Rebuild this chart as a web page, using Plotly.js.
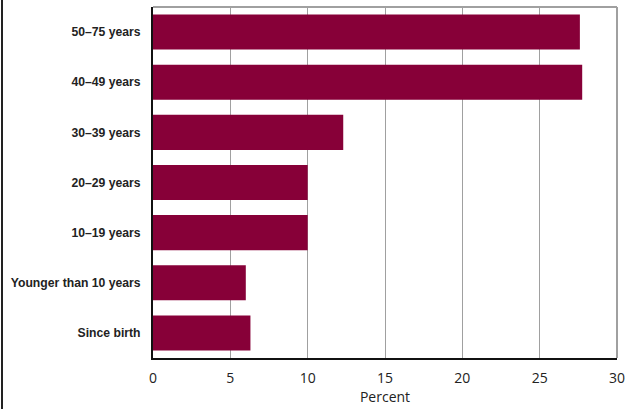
<!DOCTYPE html>
<html><head><meta charset="utf-8">
<script src="https://cdn.plot.ly/plotly-3.0.1.min.js"></script>
<style>body{margin:0;padding:0;background:#fff}#chart{width:626px;height:409px}#edge{position:absolute;left:1px;top:0;width:2px;height:409px;background:#222}</style>
</head><body>
<div id="chart"></div><div id="edge"></div>
<script>
const categories = ["50\u201375 years","40\u201349 years","30\u201339 years","20\u201329 years","10\u201319 years","Younger than 10 years","Since birth"];
const percent = [27.6, 27.75, 12.3, 10.0, 10.0, 6.0, 6.3];
const xTicks = [0,5,10,15,20,25,30];

const trace = {type:'bar', orientation:'h', y:categories, x:percent,
  marker:{color:'#870038', line:{width:0}}, hoverinfo:'x+y'};

const layout = {
  width:626, height:409,
  margin:{l:153, r:9, t:7, b:51},
  paper_bgcolor:'#fff', plot_bgcolor:'#fff',
  bargap:0.3,
  showlegend:false,
  xaxis:{range:[0,30], tickvals:xTicks, ticktext:xTicks.map(String),
    showgrid:true, gridcolor:'#a0a0a0', gridwidth:1, zeroline:false,
    showline:true, linecolor:'#111', linewidth:2, ticks:'', ticklabelstandoff:6,
    tickfont:{family:'Open Sans, sans-serif', size:14, color:'#222'},
    title:{text:'Percent', font:{family:'Open Sans, sans-serif', size:14, color:'#222'}, standoff:2}},
  yaxis:{autorange:'reversed', showgrid:false, zeroline:false,
    showline:true, linecolor:'#111', linewidth:2, ticks:'', ticklabelstandoff:8,
    tickfont:{family:'Liberation Sans, Arial, sans-serif', size:12.2, color:'#222', weight:'bold'}},
  shapes:[
    {type:'line', xref:'paper', yref:'paper', x0:0, x1:1, y0:1, y1:1, line:{color:'#a0a0a0', width:2}},
    {type:'line', xref:'paper', yref:'paper', x0:1, x1:1, y0:0, y1:1, line:{color:'#a0a0a0', width:2}}
  ]
};
Plotly.newPlot('chart',[trace],layout,{displayModeBar:false, staticPlot:true});
</script>
</body></html>
